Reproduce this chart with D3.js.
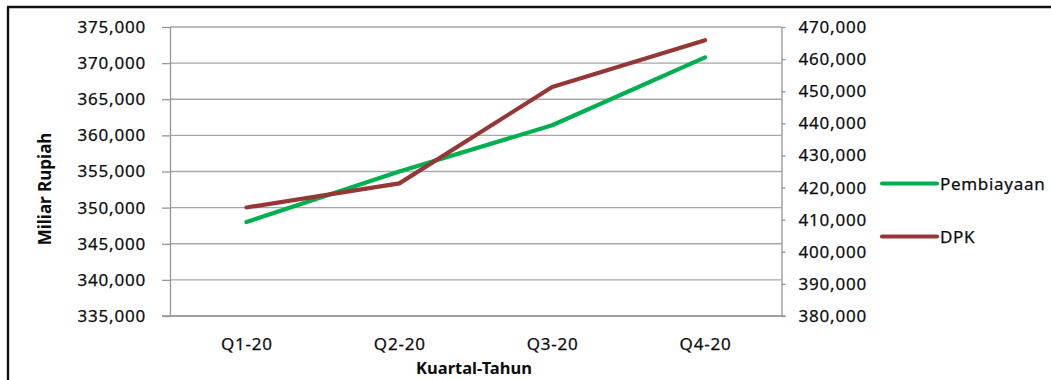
<!DOCTYPE html>
<html>
<head>
<meta charset="utf-8">
<script src="https://cdn.jsdelivr.net/npm/d3@7/dist/d3.min.js"></script>
<style>
  html, body { margin: 0; padding: 0; background: #fff; }
  svg { display: block; }
  text { font-family: "Noto Sans", "Open Sans", sans-serif; fill: #0d0d0d; }
</style>
</head>
<body>
<svg id="chart" width="1051" height="380"></svg>
<script>
// Quarterly financing (left axis) and third-party funds (right axis), in billions of rupiah
const quarters = ["Q1-20", "Q2-20", "Q3-20", "Q4-20"];
const pembiayaan = [348000, 355000, 361400, 370800];
const dpk = [413800, 421300, 451300, 465900];
const leftTicks = [335000, 340000, 345000, 350000, 355000, 360000, 365000, 370000, 375000];
const rightTicks = [380000, 390000, 400000, 410000, 420000, 430000, 440000, 450000, 460000, 470000];
const seriesNames = ["Pembiayaan", "DPK"];
const seriesColors = ["#00b050", "#953735"];

const svg = d3.select("#chart");
const plot = { left: 170, right: 781.5, top: 27, bottom: 316 };
const fmt = d3.format(",");

const x = d3.scalePoint().domain(quarters).range([plot.left, plot.right]).padding(0.5);
const yL = d3.scaleLinear().domain([335000, 375000]).range([plot.bottom, plot.top]);
const yR = d3.scaleLinear().domain([380000, 470000]).range([plot.bottom, plot.top]);

// frame of the figure
svg.append("line").attr("x1", 8).attr("x2", 8).attr("y1", 7).attr("y2", 380)
  .attr("stroke", "#111").attr("stroke-width", 2.4);
svg.append("line").attr("x1", 7).attr("x2", 1051).attr("y1", 7).attr("y2", 7)
  .attr("stroke", "#111").attr("stroke-width", 2.6);

// horizontal gridlines from the left axis
svg.append("g").selectAll("line").data(leftTicks).join("line")
  .attr("x1", plot.left).attr("x2", plot.right)
  .attr("y1", d => yL(d)).attr("y2", d => yL(d))
  .attr("stroke", "#a6a6a6").attr("stroke-width", 1.3);

function styleAxis(g) {
  g.select(".domain").attr("stroke", "#969696").attr("stroke-width", 1.3);
  g.selectAll(".tick line").attr("stroke", "#969696").attr("stroke-width", 1.3);
  g.selectAll(".tick text").attr("font-size", 17).attr("letter-spacing", 0.8)
    .attr("fill", "#0d0d0d").attr("stroke", "#0d0d0d").attr("stroke-width", 0.25)
    .attr("font-family", "Noto Sans");
}

// left axis
svg.append("g").attr("transform", `translate(${plot.left},0)`)
  .call(d3.axisLeft(yL).tickValues(leftTicks).tickFormat(fmt).tickSize(8).tickSizeOuter(0).tickPadding(16))
  .call(styleAxis);

// right axis
svg.append("g").attr("transform", `translate(${plot.right},0)`)
  .call(d3.axisRight(yR).tickValues(rightTicks).tickFormat(fmt).tickSize(4).tickSizeOuter(0).tickPadding(13))
  .call(styleAxis);

// category axis
const xg = svg.append("g").attr("transform", `translate(0,${plot.bottom})`)
  .call(d3.axisBottom(x).tickSize(0).tickPadding(22))
  .call(styleAxis);
xg.select(".domain").attr("d", `M${plot.left - 8},0H${plot.right + 4}`);

// axis titles
svg.append("text")
  .attr("transform", `translate(51,189) rotate(-90)`)
  .attr("text-anchor", "middle").attr("font-size", 17).attr("font-weight", "bold")
  .text("Miliar Rupiah");
svg.append("text")
  .attr("x", 474).attr("y", 374)
  .attr("text-anchor", "middle").attr("font-size", 16.5).attr("font-weight", "bold")
  .text("Kuartal-Tahun");

// series lines
const lineL = d3.line().x((d, i) => x(quarters[i])).y(d => yL(d));
const lineR = d3.line().x((d, i) => x(quarters[i])).y(d => yR(d));
svg.append("path").datum(pembiayaan).attr("d", lineL)
  .attr("fill", "none").attr("stroke", seriesColors[0]).attr("stroke-width", 4.2)
  .attr("stroke-linejoin", "round").attr("stroke-linecap", "round");
svg.append("path").datum(dpk).attr("d", lineR)
  .attr("fill", "none").attr("stroke", seriesColors[1]).attr("stroke-width", 4.2)
  .attr("stroke-linejoin", "round").attr("stroke-linecap", "round");

// legend
const legend = svg.append("g").selectAll("g").data(seriesNames).join("g")
  .attr("transform", (d, i) => `translate(882,${183.5 + i * 53})`);
legend.append("line").attr("x1", 0).attr("x2", 55).attr("y1", 0).attr("y2", 0)
  .attr("stroke", (d, i) => seriesColors[i]).attr("stroke-width", 4.2).attr("stroke-linecap", "round");
legend.append("text").attr("x", 58).attr("y", 6).attr("font-size", 17).attr("letter-spacing", 0.7)
  .attr("stroke", "#0d0d0d").attr("stroke-width", 0.25)
  .text(d => d);
</script>
</body>
</html>
